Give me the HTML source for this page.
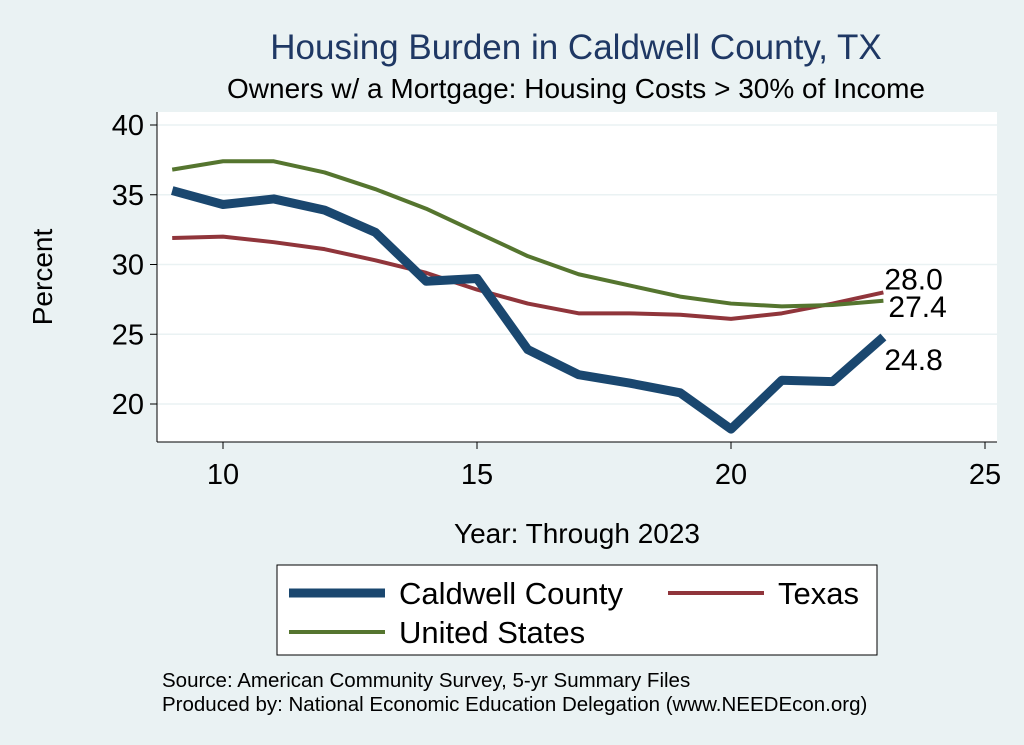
<!DOCTYPE html>
<html><head><meta charset="utf-8"><style>
body{margin:0;background:#eaf2f3;}
svg{display:block;font-family:"Liberation Sans",Arial,sans-serif;}
</style></head><body>
<svg id="chart" width="1024" height="745" viewBox="0 0 1024 745">
<rect x="0" y="0" width="1024" height="745" fill="#eaf2f3"/>
<text x="576" y="59" text-anchor="middle" font-size="35" fill="#1f3864">Housing Burden in Caldwell County, TX</text>
<text x="576" y="98" text-anchor="middle" font-size="28" fill="#000">Owners w/ a Mortgage: Housing Costs &gt; 30% of Income</text>
<rect x="157" y="112" width="840" height="330" fill="#fff"/>
<g id="grid"></g>
<g id="axes"></g>
<g id="series"></g>
<text x="52" y="277" text-anchor="middle" font-size="28" transform="rotate(-90 52 277)">Percent</text>
<text x="577" y="543" text-anchor="middle" font-size="28">Year: Through 2023</text>
<g>
<rect x="277" y="565" width="600" height="90" fill="#fff" stroke="#000" stroke-width="1"/>
<line x1="289" y1="593" x2="385" y2="593" stroke="#1a476f" stroke-width="9"/>
<text x="399" y="604" font-size="31">Caldwell County</text>
<line x1="668" y1="593" x2="764" y2="593" stroke="#90353b" stroke-width="4"/>
<text x="778" y="604" font-size="31">Texas</text>
<line x1="289" y1="632" x2="385" y2="632" stroke="#55752f" stroke-width="4"/>
<text x="399" y="643" font-size="31">United States</text>
</g>
<text x="162" y="687" font-size="20.5">Source: American Community Survey, 5-yr Summary Files</text>
<text x="162" y="711" font-size="20.5">Produced by: National Economic Education Delegation (www.NEEDEcon.org)</text>
</svg>
<script>
const years=[9,10,11,12,13,14,15,16,17,18,19,20,21,22,23];
const caldwell=[35.3,34.3,34.7,33.9,32.3,28.8,29.0,23.9,22.1,21.5,20.8,18.2,21.7,21.6,24.8];
const texas=[31.9,32.0,31.6,31.1,30.3,29.4,28.2,27.2,26.5,26.5,26.4,26.1,26.5,27.2,28.0];
const us=[36.8,37.4,37.4,36.6,35.4,34.0,32.3,30.6,29.3,28.5,27.7,27.2,27.0,27.1,27.4];
const xTicks=[10,15,20,25];
const yTicks=[20,25,30,35,40];
const NS='http://www.w3.org/2000/svg';
function X(v){return 223+(v-10)*50.8;}
function Y(v){return 404-(v-20)*13.95;}
function mk(tag,attrs,parent){const e=document.createElementNS(NS,tag);for(const k in attrs)e.setAttribute(k,attrs[k]);document.getElementById(parent).appendChild(e);return e;}
yTicks.forEach(t=>{
 const g=mk('line',{x1:157,x2:997,y1:Y(t),y2:Y(t),stroke:'#eaf2f3','stroke-width':1.5},'grid');
 
 
 const tk=mk('line',{x1:150,x2:157,y1:Y(t),y2:Y(t),stroke:'#000'},'axes');
 
 
 const tx=mk('text',{x:144,y:Y(t)+10,'text-anchor':'end','font-size':29},'axes');
 tx.textContent=t;
 
 
});
xTicks.forEach(t=>{
 const tk=mk('line',{x1:X(t),x2:X(t),y1:442,y2:449,stroke:'#000'},'axes');
 
 
 const tx=mk('text',{x:X(t),y:484,'text-anchor':'middle','font-size':29},'axes');
 tx.textContent=t;
 
 
});
const ya=mk('line',{x1:157,x2:157,y1:112,y2:442,stroke:'#000'},'axes');


const xa=mk('line',{x1:157,x2:997,y1:442,y2:442,stroke:'#000'},'axes');


function line(vals,color,w,name){
 const p=mk('polyline',{points:vals.map((v,i)=>X(years[i])+','+Y(v)).join(' '),fill:'none',stroke:color,'stroke-width':w,'stroke-linejoin':'round'},'series');
 
 
}
line(texas,'#90353b',4,'texas-line');
line(us,'#55752f',4,'us-line');
line(caldwell,'#1a476f',9,'caldwell-line');
const last=years.length-1;
function lab(v,dx,dy,name){
 const t=mk('text',{x:X(years[last])+dx,y:Y(v)+dy,'font-size':30},'series');
 t.textContent=v.toFixed(1);
 
 
}
lab(texas[last],1,-3,'texas-end-label');
lab(us[last],5,16,'us-end-label');
lab(caldwell[last],1,33,'caldwell-end-label');
</script>
</body></html>
